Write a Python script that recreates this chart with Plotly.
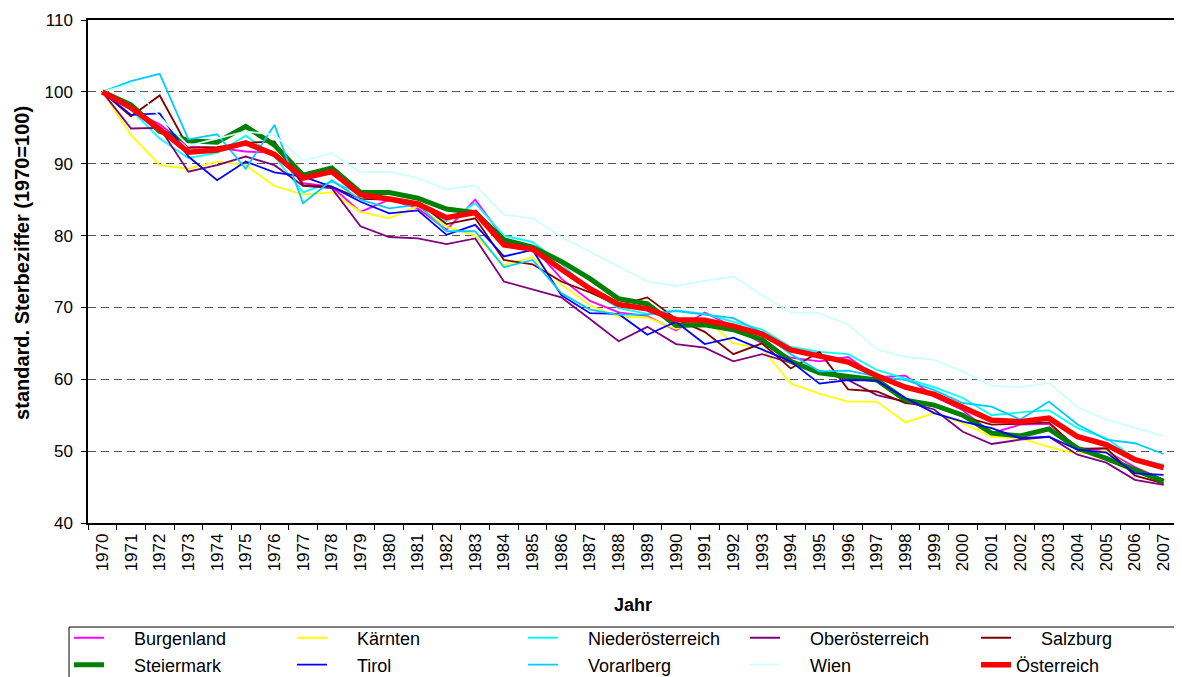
import plotly.graph_objects as go

years = [str(y) for y in range(1970, 2008)]

burgenland = [100, 97.5, 95.5, 92.4, 92.2, 91.7, 91.5, 87.3, 86.8, 83.3, 85.0, 83.8, 80.8, 85.0, 79.6, 78.5, 74.0, 70.9, 69.3, 68.8,
              66.8, 69.3, 67.3, 65.0, 63.0, 62.5, 63.1, 60.3, 60.5, 57.6, 55.7, 52.5, 53.7, 53.8, 50.5, 50.0, 47.8, 46.0]
kaernten = [100, 94.0, 89.8, 89.3, 90.3, 89.8, 86.9, 85.7, 86.0, 83.3, 82.4, 84.1, 81.2, 80.0, 75.9, 77.0, 73.2, 70.3, 68.7, 68.6,
            67.0, 68.5, 65.0, 64.3, 59.4, 58.0, 56.9, 56.9, 54.0, 55.3, 53.9, 52.0, 51.8, 50.6, 49.6, 50.1, 47.2, 45.6]
niederoesterreich = [100, 97.5, 93.5, 90.8, 91.5, 93.9, 91.0, 86.0, 87.5, 85.8, 85.0, 84.5, 82.0, 84.5, 80.0, 79.1, 76.1, 72.4, 69.9, 69.1,
                     69.6, 69.1, 68.0, 66.9, 64.5, 63.8, 63.5, 61.3, 60.1, 58.9, 57.4, 55.0, 55.4, 55.7, 53.2, 51.8, 49.0, 48.1]
oberoesterreich = [100, 94.9, 95.0, 88.9, 89.8, 91.0, 89.8, 86.9, 86.6, 81.3, 79.8, 79.6, 78.8, 79.6, 73.6, 72.5, 71.4, 68.4, 65.3, 67.3,
                   64.9, 64.4, 62.5, 63.5, 62.3, 61.0, 59.9, 57.8, 56.9, 55.8, 52.7, 51.0, 51.6, 52.0, 49.5, 48.4, 46.0, 45.3]
salzburg = [100, 96.6, 99.5, 92.2, 92.3, 92.9, 93.1, 87.0, 86.8, 85.1, 85.0, 84.6, 81.6, 82.4, 76.6, 76.0, 73.6, 72.1, 70.3, 71.4,
            68.4, 66.6, 63.5, 65.0, 61.5, 63.8, 58.6, 58.3, 56.7, 56.3, 54.8, 53.7, 53.8, 54.0, 50.3, 50.4, 46.6, 45.5]
steiermark = [100, 98.2, 94.5, 93.2, 93.0, 95.2, 92.6, 88.4, 89.4, 86.0, 86.0, 85.2, 83.7, 83.2, 79.4, 78.4, 76.4, 74.0, 71.2, 70.5,
              67.5, 67.6, 66.9, 65.5, 62.5, 60.9, 60.4, 59.9, 57.1, 56.4, 55.0, 52.5, 52.1, 53.1, 50.4, 49.0, 47.4, 45.8]
tirol = [100, 96.8, 97.0, 91.0, 87.7, 90.3, 88.8, 88.2, 86.8, 84.7, 83.1, 83.5, 80.1, 81.5, 77.1, 78.0, 71.7, 69.2, 69.1, 66.2,
         68.0, 64.9, 65.8, 64.2, 62.5, 59.4, 59.9, 59.8, 57.4, 55.3, 54.1, 53.2, 51.8, 52.0, 50.2, 49.8, 46.9, 46.7]
vorarlberg = [100, 101.5, 102.5, 93.4, 94.1, 89.3, 95.4, 84.5, 87.7, 85.0, 83.8, 84.3, 80.6, 80.6, 75.6, 76.6, 72.0, 69.7, 69.0, 69.0,
              69.5, 69.0, 68.5, 66.5, 63.5, 61.1, 61.2, 60.4, 59.9, 58.5, 56.7, 56.2, 54.4, 56.9, 53.7, 51.6, 51.1, 49.6]
wien = [100, 101.1, 96.5, 92.5, 93.5, 94.5, 94.0, 90.4, 91.5, 88.8, 88.9, 88.0, 86.4, 87.0, 82.9, 82.4, 79.8, 77.8, 75.7, 73.6,
        73.0, 73.7, 74.3, 71.7, 69.3, 69.2, 67.6, 64.2, 63.1, 62.7, 61.1, 59.1, 58.9, 59.5, 56.1, 54.4, 53.2, 52.1]
oesterreich = [100, 97.8, 94.8, 91.6, 91.9, 92.9, 91.3, 88.0, 88.9, 85.7, 85.1, 84.4, 82.5, 83.2, 78.7, 78.1, 75.3, 72.6, 70.4, 69.8,
               68.3, 68.2, 67.4, 66.3, 64.1, 63.3, 62.4, 60.5, 58.9, 57.9, 56.2, 54.3, 54.1, 54.6, 52.0, 50.9, 48.8, 47.7]

# name, values, colour, line width, legend row
series = [
    ('Burgenland', burgenland, '#FF00FF', 1.8, 'legend'),
    ('Kärnten', kaernten, '#FFFF00', 1.8, 'legend'),
    ('Niederösterreich', niederoesterreich, '#00FFFF', 1.8, 'legend'),
    ('Oberösterreich', oberoesterreich, '#800080', 1.8, 'legend'),
    ('Salzburg', salzburg, '#800000', 1.8, 'legend'),
    ('Steiermark', steiermark, '#008000', 5, 'legend2'),
    ('Tirol', tirol, '#0000FF', 1.8, 'legend2'),
    ('Vorarlberg', vorarlberg, '#00CCFF', 1.8, 'legend2'),
    ('Wien', wien, '#CCFFFF', 1.8, 'legend2'),
    ('Österreich', oesterreich, '#FF0000', 5.5, 'legend2'),
]
col_widths = [178, 186, 177, 186, 100]  # legend column widths (same in both rows)

pad = '\u00a0' * 5  # gap between legend line and label, as in the original

fig = go.Figure()
for i, (name, vals, col, w, leg) in enumerate(series):
    label = name if name == 'Österreich' else pad + name
    fig.add_trace(go.Scatter(x=years, y=vals, mode='lines', name=label, legend=leg,
                             legendwidth=col_widths[i % 5],
                             line=dict(color=col, width=w)))

font = 'Liberation Sans, Arial, sans-serif'
leg_style = dict(orientation='h', xanchor='left', yanchor='top', x=-0.0174,
                 bgcolor='rgba(0,0,0,0)', borderwidth=0,
                 font=dict(family=font, size=18, color='black'))

# the page has an 8px body margin, so the figure is 8px smaller than the window
fig.update_layout(
    width=1174, height=669,
    margin=dict(l=80, r=4, t=12, b=154, autoexpand=False),
    paper_bgcolor='white', plot_bgcolor='white',
    font=dict(family=font, size=17, color='black'),
    showlegend=True,
    legend=dict(leg_style, y=-0.1919),
    legend2=dict(leg_style, y=-0.2455),
    shapes=[dict(type='rect', xref='paper', yref='paper', x0=-0.0174, x1=1.02, y0=-0.2068, y1=-0.32,
                 line=dict(color='black', width=1), fillcolor='rgba(0,0,0,0)')],
    annotations=[dict(text='<b>standard. Sterbeziffer (1970=100)</b>', textangle=-90,
                      xref='paper', yref='paper', x=-0.0606, y=0.517, xanchor='center', yanchor='middle',
                      showarrow=False, font=dict(size=20))],
)
fig.update_xaxes(type='category', range=[-0.5, 37.5], tickangle=-90, tickson='boundaries',
                 ticks='outside', ticklen=5, tickcolor='black', automargin=False, ticklabelstandoff=2,
                 showline=True, linecolor='black', linewidth=1.5, mirror=True,
                 showgrid=False, tickfont=dict(size=17),
                 title=dict(text='<b>Jahr</b>', font=dict(size=18), standoff=28))
fig.update_yaxes(range=[40, 110], dtick=10, ticks='outside', ticklen=5, tickcolor='black',
                 showline=True, linecolor='black', linewidth=1.5, mirror=True, automargin=False,
                 ticklabelstandoff=5,
                 showgrid=True, gridcolor='#555555', griddash='8px,5px', gridwidth=1, zeroline=False,
                 tickfont=dict(size=17))

fig.write_html("out.html")
